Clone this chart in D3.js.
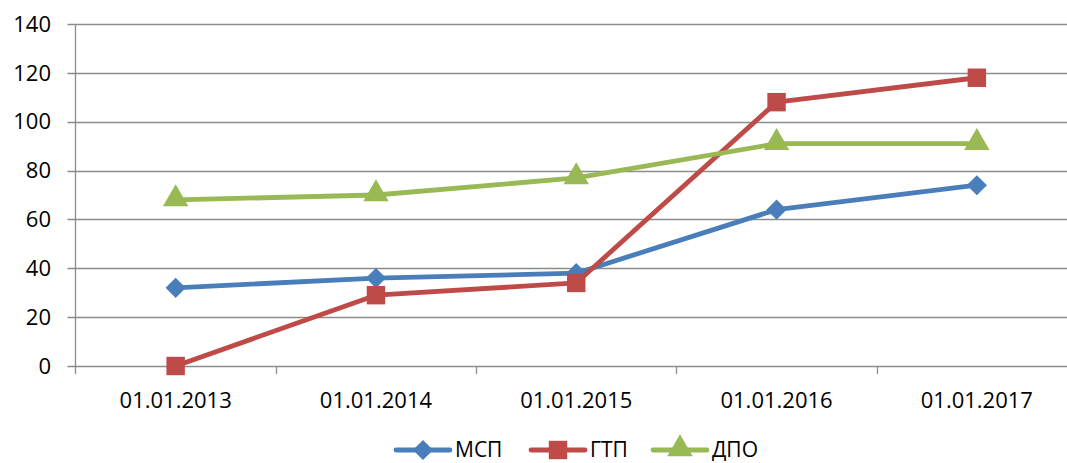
<!DOCTYPE html>
<html>
<head>
<meta charset="utf-8">
<script src="https://cdn.jsdelivr.net/npm/d3@7"></script>
<style>
  body { margin: 0; background: #fff; }
  svg text { font-family: "Open Sans", "Liberation Sans", sans-serif; fill: #000; }
</style>
</head>
<body>
<div id="chart"></div>
<script>
// категории и значения рядов
var dates = ["01.01.2013", "01.01.2014", "01.01.2015", "01.01.2016", "01.01.2017"];
var mspValues = [32, 36, 38, 64, 74];
var gtpValues = [0, 29, 34, 108, 118];
var dpoValues = [68, 70, 77, 91, 91];
var yTicks = [0, 20, 40, 60, 80, 100, 120, 140];

var series = [
  { name: "МСП", values: mspValues, color: "#4A7EBB", marker: "diamond" },
  { name: "ГТП", values: gtpValues, color: "#BE4B48", marker: "square" },
  { name: "ДПО", values: dpoValues, color: "#98B954", marker: "triangle" }
];

var W = 1067, H = 463;
var plotLeft = 75.5, plotRight = 1077, plotTop = 24, plotBottom = 366;
var fontSize = "22px";

var svg = d3.select("#chart").append("svg")
  .attr("width", W)
  .attr("height", H);

var x = d3.scaleBand().domain(dates).range([plotLeft, plotRight]);
var y = d3.scaleLinear().domain([0, 140]).range([plotBottom, plotTop]);

// горизонтальная сетка
svg.append("g").selectAll("line")
  .data(yTicks)
  .enter().append("line")
  .attr("x1", plotLeft - 8)
  .attr("x2", plotRight)
  .attr("y1", function (d) { return Math.round(y(d)) + 0.5; })
  .attr("y2", function (d) { return Math.round(y(d)) + 0.5; })
  .attr("stroke", "#8c8c8c")
  .attr("stroke-width", 1.3);

// подписи оси Y
svg.append("g").selectAll("text")
  .data(yTicks)
  .enter().append("text")
  .attr("x", 51)
  .attr("y", function (d) { return y(d); })
  .attr("dy", "0.35em")
  .attr("text-anchor", "end")
  .attr("font-size", fontSize)
  .text(function (d) { return d; });

// ось Y
svg.append("line")
  .attr("x1", plotLeft).attr("x2", plotLeft)
  .attr("y1", plotTop).attr("y2", plotBottom + 8)
  .attr("stroke", "#8c8c8c")
  .attr("stroke-width", 1.3);

// засечки оси X между категориями
var bounds = dates.map(function (d) { return x(d); }).concat([plotRight]);
svg.append("g").selectAll("line")
  .data(bounds.slice(1))
  .enter().append("line")
  .attr("x1", function (d) { return Math.round(d) + 0.5; })
  .attr("x2", function (d) { return Math.round(d) + 0.5; })
  .attr("y1", plotBottom)
  .attr("y2", plotBottom + 8)
  .attr("stroke", "#8c8c8c")
  .attr("stroke-width", 1.3);

// подписи оси X
svg.append("g").selectAll("text")
  .data(dates)
  .enter().append("text")
  .attr("x", function (d) { return x(d) + x.bandwidth() / 2; })
  .attr("y", 408)
  .attr("text-anchor", "middle")
  .attr("font-size", fontSize)
  .text(function (d) { return d; });

var symbolFor = {
  diamond: d3.symbol().type(d3.symbolDiamond2).size(260),
  square: d3.symbol().type(d3.symbolSquare).size(340),
  triangle: d3.symbol().type(d3.symbolTriangle).size(280)
};

var line = d3.line()
  .x(function (d, i) { return x(dates[i]) + x.bandwidth() / 2; })
  .y(function (d) { return y(d); });

series.forEach(function (s) {
  svg.append("path")
    .datum(s.values)
    .attr("d", line)
    .attr("fill", "none")
    .attr("stroke", s.color)
    .attr("stroke-width", 4.8)
    .attr("stroke-linejoin", "round");
  svg.append("g").selectAll("path")
    .data(s.values)
    .enter().append("path")
    .attr("d", symbolFor[s.marker])
    .attr("transform", function (d, i) {
      var dy = s.marker === "triangle" ? -1 : 0;
      return "translate(" + (x(dates[i]) + x.bandwidth() / 2) + "," + (y(d) + dy) + ")";
    })
    .attr("fill", s.color);
});

// легенда
var legendX = [396, 531, 653];
var legendY = 450;
series.forEach(function (s, i) {
  var g = svg.append("g").attr("transform", "translate(" + legendX[i] + "," + legendY + ")");
  g.append("line")
    .attr("x1", 0).attr("x2", 54)
    .attr("stroke", s.color)
    .attr("stroke-width", 4.8)
    .attr("stroke-linecap", "round");
  g.append("path")
    .attr("d", symbolFor[s.marker])
    .attr("transform", "translate(27," + (s.marker === "triangle" ? -1 : 0) + ")")
    .attr("fill", s.color);
  g.append("text")
    .attr("x", 59)
    .attr("dy", "0.35em")
    .attr("font-size", "21px")
    .text(s.name);
});
</script>
</body>
</html>
